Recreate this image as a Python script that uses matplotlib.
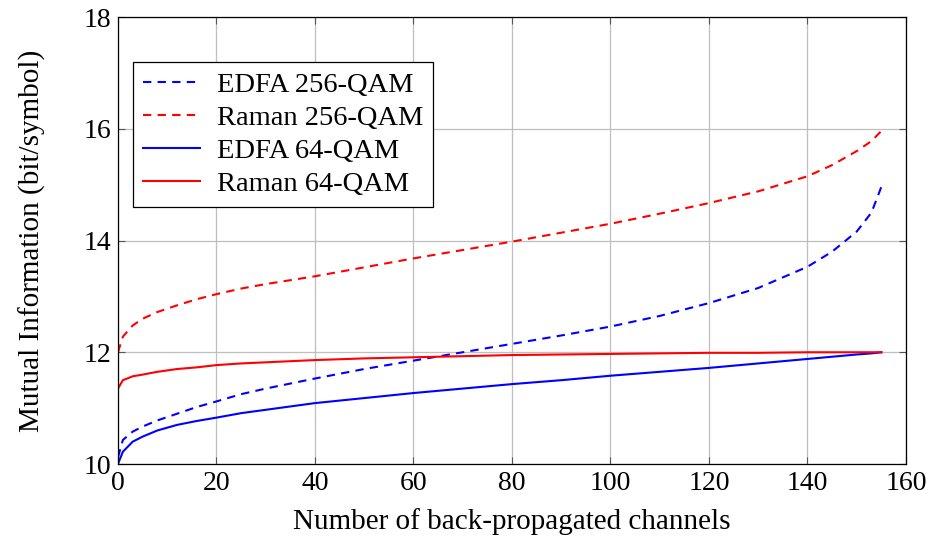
import matplotlib.pyplot as plt

plt.rcParams['font.family'] = ['Liberation Serif', 'DejaVu Serif']
plt.rcParams['mathtext.fontset'] = 'stix'

# Кількість каналів
channels = [0, 1, 3, 5, 8, 12, 16, 20, 25, 30, 35, 40, 50, 60, 70, 80, 90,
            100, 110, 120, 130, 140, 145, 150, 153, 155]

edfa_256 = [10.12, 10.43, 10.58, 10.67, 10.78, 10.9, 11.02, 11.12, 11.25, 11.35,
            11.44, 11.53, 11.7, 11.85, 12.0, 12.15, 12.3, 12.46, 12.65, 12.88,
            13.15, 13.53, 13.8, 14.16, 14.5, 14.96]
raman_256 = [12.0, 12.28, 12.48, 12.6, 12.72, 12.84, 12.95, 13.04, 13.14, 13.22,
             13.29, 13.36, 13.52, 13.68, 13.83, 13.98, 14.14, 14.3, 14.48, 14.67,
             14.88, 15.15, 15.35, 15.6, 15.78, 15.96]
edfa_64 = [10.0, 10.22, 10.4, 10.49, 10.6, 10.7, 10.77, 10.83, 10.91, 10.97,
           11.03, 11.09, 11.18, 11.27, 11.35, 11.43, 11.5, 11.58, 11.65, 11.72,
           11.8, 11.88, 11.92, 11.96, 11.98, 12.0]
raman_64 = [11.35, 11.5, 11.57, 11.6, 11.65, 11.7, 11.73, 11.77, 11.8, 11.82,
            11.84, 11.86, 11.89, 11.91, 11.93, 11.95, 11.96, 11.97, 11.98, 11.99,
            11.99, 12.0, 12.0, 12.0, 12.0, 12.0]

fig = plt.figure(figsize=(9.31, 5.42), dpi=100)
ax = fig.add_axes([0.1267, 0.1439, 0.8464, 0.8247])

dash = (0, (4, 3))
ax.plot(channels, edfa_256, color='blue', lw=1.5, linestyle=dash, label='EDFA 256-QAM')
ax.plot(channels, raman_256, color='red', lw=1.5, linestyle=dash, label='Raman 256-QAM')
ax.plot(channels, edfa_64, color='blue', lw=1.5, label='EDFA 64-QAM')
ax.plot(channels, raman_64, color='red', lw=1.5, label='Raman 64-QAM')

ax.set_xlim(0, 160)
ax.set_ylim(10, 18)
ax.set_xticks(range(0, 161, 20))
ax.set_yticks(range(10, 19, 2))
ax.grid(True, color='#bfbfbf', lw=0.9)
ax.set_axisbelow(True)
ax.tick_params(direction='in', top=True, right=True, labelsize=20, length=5,
               color='#555555', pad=5)
for s in ax.spines.values():
    s.set_linewidth(0.9)

ax.set_xlabel('Number of back-propagated channels', fontsize=21, labelpad=9)
ax.set_ylabel('Mutual Information (bit/symbol)', fontsize=21, labelpad=27)

leg = ax.legend(loc='upper left', bbox_to_anchor=(0.019, 0.899), borderaxespad=0,
                fontsize=20.5, fancybox=False, edgecolor='black', framealpha=1,
                handlelength=2.0, handletextpad=0.6, borderpad=0.35,
                labelspacing=0.25)
leg.get_frame().set_linewidth(0.9)

plt.savefig('out.png', dpi=100)
